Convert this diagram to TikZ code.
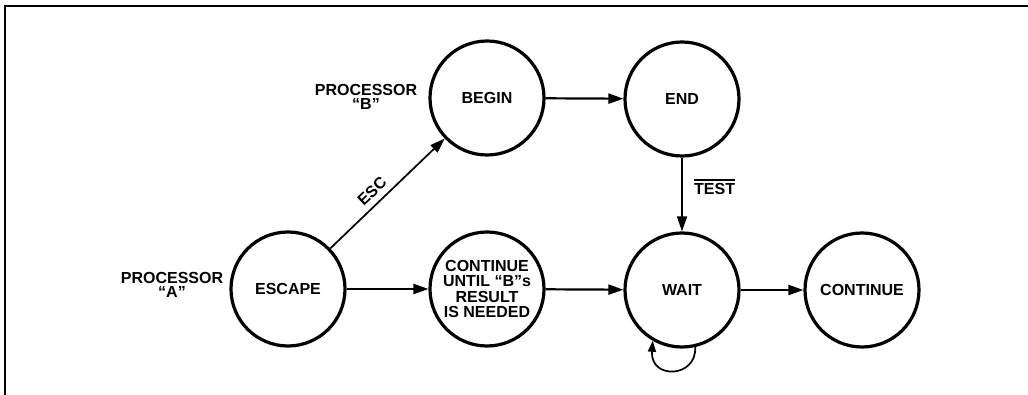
\documentclass[tikz,border=0pt]{standalone}
\usepackage{fontspec}
\setmainfont{Liberation Sans}
\usetikzlibrary{arrows.meta}
\begin{document}
\begin{tikzpicture}[x=1pt,y=1pt,
  state/.style={circle,draw,line width=3.2pt,minimum size=114pt,inner sep=0pt,align=center,
    font=\fontsize{16}{15.5}\selectfont\bfseries},
  lbl/.style={align=center,inner sep=0pt,font=\fontsize{16}{14}\selectfont\bfseries},
  arr/.style={line width=2.2pt,-{Triangle[length=15pt,width=10pt]}},
  thin/.style={line width=1.7pt,-{Triangle[length=15pt,width=10pt]}}
]
\useasboundingbox (0,0) rectangle (1028,-395);
\draw[line width=2.5pt] (5,-395) -- (5,-6) -- (1028,-6);

\node[state] (escape) at (288,-289) {ESCAPE};
\node[state] (cont1)  at (487,-289) {CONTINUE\\UNTIL “B”s\\RESULT\\IS NEEDED};
\node[state] (wait)   at (682,-290) {WAIT};
\node[state] (cont2)  at (862,-290) {CONTINUE};
\node[state] (begin)  at (487,-98)  {BEGIN};
\node[state] (end)    at (682,-99)  {END};

\node[lbl] (pa) at (172,-285) {PROCESSOR\\“A”};
\node[lbl] (pb) at (366,-97) {PROCESSOR\\“B”};

\draw[arr] (escape) -- (cont1);
\draw[arr] (cont1) -- (wait);
\draw[arr] (wait) -- (cont2);
\draw[arr] (begin) -- (end);
\draw[thin] (escape) -- node[pos=0.44,above,sloped,lbl,yshift=6pt]{ESC} (begin);
\draw[thin] (end) -- (wait);
\node[lbl,anchor=west] (test) at (694,-189) {TEST};
\draw[line width=1.3pt] ([yshift=3pt]test.north west) -- ([yshift=3pt]test.north east);
\draw[line width=1.7pt,-{Triangle[length=11pt,width=8pt]}] (wait.-77) .. controls (697,-378) and (650,-380) .. (wait.-120);
\end{tikzpicture}
\end{document}
